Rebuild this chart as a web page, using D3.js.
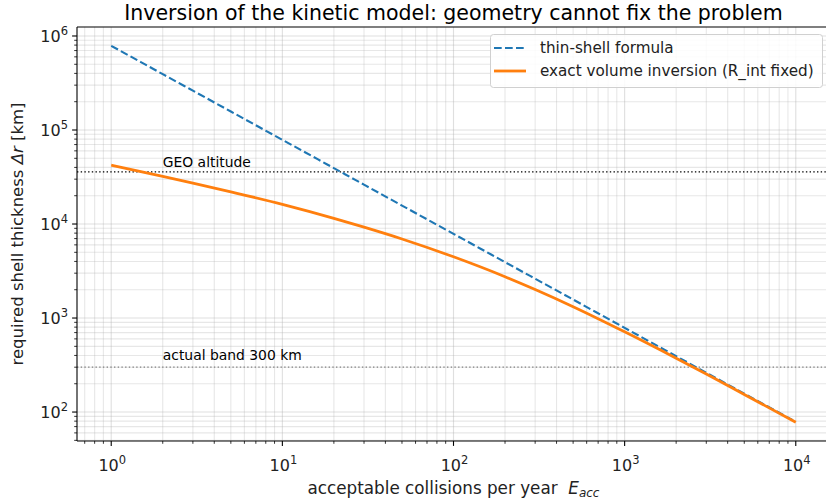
<!DOCTYPE html>
<html>
<head>
<meta charset="utf-8">
<script src="https://cdn.jsdelivr.net/npm/d3@7"></script>
<style>
  html, body { margin: 0; padding: 0; background: #fff; }
  svg { display: block; font-family: "DejaVu Sans", sans-serif; }
</style>
</head>
<body>
<svg id="chart" width="826" height="501"></svg>
<script>
// ---- data ----
const energies = [1, 2, 3, 5, 10, 20, 30, 50, 100, 200, 300, 500, 1000, 2000, 3000, 5000, 10000];
const thinShell = [786000, 393000, 262000, 157200, 78600, 39300, 26200, 15720, 7860, 3930, 2620, 1572, 786, 393, 262, 157, 78.6];
const exactVolume = [42300, 32200, 27300, 22000, 16200, 11500, 9250, 6930, 4480, 2750, 2010, 1320, 713, 374, 254, 154, 77.8];
const geoAltitude = 35786;
const bandThickness = 300;
const xTickExponents = [0, 1, 2, 3, 4];
const yTickExponents = [2, 3, 4, 5, 6];
const seriesNames = ["thin-shell formula", "exact volume inversion (R_int fixed)"];
const refLabels = ["GEO altitude", "actual band 300 km"];

// ---- layout ----
const svg = d3.select("#chart");
const pL = 77, pR = 830, pT = 27, pB = 441;
const x = d3.scaleLog().domain([Math.pow(10, -0.2), Math.pow(10, 4.2)]).range([pL, pR]);
const y = d3.scaleLog().domain([Math.pow(10, 1.692), Math.pow(10, 6.0956)]).range([pB, pT]);

function minorTicks(scale) {
  const [a, b] = scale.domain();
  const out = [];
  for (let e = Math.floor(Math.log10(a)) - 1; e <= Math.ceil(Math.log10(b)); e++) {
    for (let m = 1; m <= 9; m++) {
      const v = m * Math.pow(10, e);
      if (v >= a && v <= b) out.push({v, major: m === 1});
    }
  }
  return out;
}
const xt = minorTicks(x), yt = minorTicks(y);

// grid
const grid = svg.append("g");
grid.selectAll("line.gx").data(xt).enter().append("line")
  .attr("x1", d => x(d.v)).attr("x2", d => x(d.v)).attr("y1", pT).attr("y2", pB)
  .attr("stroke", "#b0b0b0").attr("stroke-opacity", d => d.major ? 0.4 : 0.3).attr("stroke-width", 1.1);
grid.selectAll("line.gy").data(yt).enter().append("line")
  .attr("y1", d => y(d.v)).attr("y2", d => y(d.v)).attr("x1", pL).attr("x2", pR)
  .attr("stroke", "#b0b0b0").attr("stroke-opacity", d => d.major ? 0.4 : 0.3).attr("stroke-width", 1.1);

// reference lines
svg.append("line").attr("x1", pL).attr("x2", pR).attr("y1", y(geoAltitude)).attr("y2", y(geoAltitude))
  .attr("stroke", "#000").attr("stroke-width", 1.2).attr("stroke-dasharray", "1.4,2.3");
svg.append("line").attr("x1", pL).attr("x2", pR).attr("y1", y(bandThickness)).attr("y2", y(bandThickness))
  .attr("stroke", "#808080").attr("stroke-width", 1.2).attr("stroke-dasharray", "1.4,2.3");
svg.append("text").attr("x", x(2)).attr("y", y(geoAltitude * 1.13)).attr("font-size", 13.9).attr("fill", "#000").text(refLabels[0]);
svg.append("text").attr("x", x(2)).attr("y", y(bandThickness * 1.18)).attr("font-size", 13.9).attr("fill", "#000").text(refLabels[1]);

// series
const line = d3.line().x(d => x(d[0])).y(d => y(d[1])).curve(d3.curveMonotoneX);
svg.append("path").datum(energies.map((e, i) => [e, thinShell[i]]))
  .attr("d", line).attr("fill", "none").attr("stroke", "#1f77b4").attr("stroke-width", 2.1)
  .attr("stroke-dasharray", "7.7,3.3");
svg.append("path").datum(energies.map((e, i) => [e, exactVolume[i]]))
  .attr("d", line).attr("fill", "none").attr("stroke", "#ff7f0e").attr("stroke-width", 2.8);

// axes spines
svg.append("line").attr("x1", pL).attr("x2", pL).attr("y1", pT).attr("y2", pB).attr("stroke", "#000").attr("stroke-width", 1.1);
svg.append("line").attr("x1", pL).attr("x2", pR).attr("y1", pB).attr("y2", pB).attr("stroke", "#000").attr("stroke-width", 1.1);
svg.append("line").attr("x1", pL).attr("x2", pR).attr("y1", pT).attr("y2", pT).attr("stroke", "#000").attr("stroke-width", 1.1);

// ticks
svg.selectAll("line.tx").data(xt).enter().append("line")
  .attr("x1", d => x(d.v)).attr("x2", d => x(d.v)).attr("y1", pB).attr("y2", d => pB + (d.major ? 4.9 : 2.8))
  .attr("stroke", "#000").attr("stroke-width", d => d.major ? 1.1 : 0.8);
svg.selectAll("line.ty").data(yt).enter().append("line")
  .attr("y1", d => y(d.v)).attr("y2", d => y(d.v)).attr("x1", pL).attr("x2", d => pL - (d.major ? 4.9 : 2.8))
  .attr("stroke", "#000").attr("stroke-width", d => d.major ? 1.1 : 0.8);

function powLabel(sel, e) {
  sel.append("tspan").text("10");
  sel.append("tspan").attr("dy", -7).attr("font-size", 11.5).text(e);
}
xTickExponents.forEach(e => {
  const t = svg.append("text").attr("x", x(Math.pow(10, e)) + 1).attr("y", 471).attr("text-anchor", "middle")
    .attr("font-size", 16).attr("fill", "#222");
  powLabel(t, e);
});
yTickExponents.forEach(e => {
  const t = svg.append("text").attr("x", 68).attr("y", y(Math.pow(10, e)) + 6).attr("text-anchor", "end")
    .attr("font-size", 16).attr("fill", "#222");
  powLabel(t, e);
});

// axis labels
const xl = svg.append("text").attr("x", (pL + pR) / 2).attr("y", 494).attr("text-anchor", "middle")
  .attr("font-size", 16.8).attr("fill", "#222");
xl.append("tspan").text("acceptable collisions per year\u00a0\u00a0");
xl.append("tspan").attr("font-style", "italic").text("E");
xl.append("tspan").attr("font-style", "italic").attr("font-size", 12).attr("dy", 3).text("acc");

const yl = svg.append("text").attr("transform", `translate(23,${(pT + pB) / 2}) rotate(-90)`)
  .attr("text-anchor", "middle").attr("font-size", 16.5).attr("fill", "#222");
yl.append("tspan").text("required shell thickness ");
yl.append("tspan").attr("font-style", "italic").text("\u0394r");
yl.append("tspan").text(" [km]");

// title
svg.append("text").attr("x", (pL + pR) / 2).attr("y", 20).attr("text-anchor", "middle")
  .attr("font-size", 20.5).attr("fill", "#000").text("Inversion of the kinetic model: geometry cannot fix the problem");

// legend
const lg = svg.append("g");
lg.append("rect").attr("x", 490.5).attr("y", 34.5).attr("width", 332).attr("height", 53).attr("rx", 3)
  .attr("fill", "#fff").attr("fill-opacity", 0.85).attr("stroke", "#d0d0d0").attr("stroke-width", 1);
const rows = [48, 71];
lg.append("line").attr("x1", 494).attr("x2", 526).attr("y1", rows[0]).attr("y2", rows[0])
  .attr("stroke", "#1f77b4").attr("stroke-width", 2.1).attr("stroke-dasharray", "7.7,3.3");
lg.append("line").attr("x1", 494).attr("x2", 526).attr("y1", rows[1]).attr("y2", rows[1])
  .attr("stroke", "#ff7f0e").attr("stroke-width", 2.8);
seriesNames.forEach((n, i) => {
  lg.append("text").attr("x", 540).attr("y", rows[i] + 5).attr("font-size", 15.2).attr("fill", "#222").text(n);
});
</script>
</body>
</html>
